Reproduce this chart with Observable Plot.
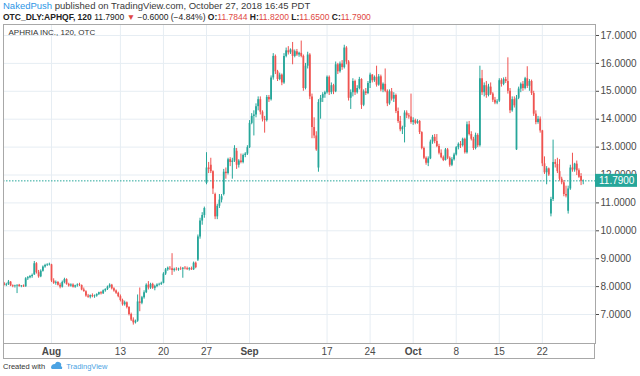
<!DOCTYPE html>
<html><head><meta charset="utf-8">
<script src="https://cdn.jsdelivr.net/npm/d3@7"></script>
<script src="https://cdn.jsdelivr.net/npm/@observablehq/plot@0.6"></script>
<style>
body{margin:0;background:#fff;font-family:"Liberation Sans",Arial,sans-serif;width:640px;height:376px;overflow:hidden;position:relative}
#h1{position:absolute;left:3px;top:0px;font-size:9.5px;color:#3a3a3a;white-space:nowrap;line-height:12px}
#h1 .u{color:#2e96e6}
#h2{position:absolute;left:3px;top:11px;font-size:8.5px;color:#222;white-space:nowrap;line-height:12px}
#h2 .r{color:#e04843}
#chart{position:absolute;left:0;top:22px}
#foot{position:absolute;left:3px;top:361px;font-size:7.5px;color:#333;white-space:nowrap;line-height:12px}
#foot .tv{color:#4ba3e3}
</style></head>
<body>
<div id="h1"><span class="u">NakedPush</span> published on TradingView.com, October 27, 2018 16:45 PDT</div>
<div id="h2"><b>OTC_DLY:APHQF, 120</b> 11.7900 <span class="r">▼</span> −0.6000 (−4.84%) <b>O:</b><span class="r">11.7844</span> <b>H:</b><span class="r">11.8200</span> <b>L:</b><span class="r">11.6500</span> <b>C:</b><span class="r">11.7900</span></div>
<div id="chart"></div>
<div id="foot">Created with <svg width="13" height="9" style="vertical-align:-1px;margin:0 3px"><path d="M1 7 Q1 3 5 3 Q6 0 9 1 Q12 2 11 5 Q13 6 12 8 L2 8 Z" fill="#4ba3e3"/></svg><span class="tv">TradingView</span></div>
<script>
// 120-minute bars, Jul 24 (last 2 bars) to Oct 26 2018, 4 bars per trading day
const opens = [
8.10,8.05,
8.08,8.16,8.03,8.00, 8.02,8.05,8.00,8.02, 7.99,8.28,8.32,8.36, 8.42,8.82,8.50,8.35, 8.55,8.70,8.76,8.78,
8.78,8.20,8.12,8.15, 8.05,7.98,8.15,8.25, 8.08,8.02,8.06,7.98, 8.03,8.06,8.04,7.88, 7.82,7.66,7.62,7.68,
7.64,7.66,7.72,7.78, 7.74,7.85,7.90,7.98, 8.05,7.92,7.84,7.76, 7.64,7.50,7.35,7.42, 7.25,7.00,6.80,6.70,
6.76,7.45,7.40,7.60, 7.78,8.05,7.95,8.08, 7.94,8.00,8.06,8.08, 8.12,8.45,8.60,8.66, 8.64,8.58,8.62,8.60,
8.63,8.62,8.66,8.64, 8.61,8.64,8.60,8.84, 8.95,9.78,10.35,10.55, 11.70,12.25,12.35,12.12, 11.30,10.50,10.88,11.10,
11.30,12.10,12.05,12.55, 12.45,12.50,12.85,12.35, 12.50,12.45,12.70,12.75, 12.98,13.85,14.10,14.15, 14.45,14.70,14.25,14.00,
13.95,14.78,14.70,15.48, 16.25,15.70,15.42,15.58, 15.30,16.25,16.45,16.38, 16.48,16.25,16.42,16.30, 16.36,16.25,15.10,15.90,
16.30,14.80,13.70,13.40, 12.25,14.60,14.75,14.88, 14.95,15.50,14.95,15.20, 14.98,15.95,15.70,15.98, 15.85,16.55,16.05,14.75,
14.95,15.35,14.95,15.10, 15.42,14.50,14.98,14.92, 15.28,15.58,15.38,15.50, 15.22,15.52,15.05,15.25, 15.00,14.55,14.98,14.72,
14.85,14.28,13.92,13.62, 13.70,14.22,14.12,14.08, 13.88,13.95,13.85,13.92, 13.52,12.95,12.60,12.42, 12.58,13.18,13.35,13.20,
13.02,12.78,12.62,12.52, 12.90,12.60,12.35,12.55, 12.72,12.98,13.10,13.05, 13.28,12.80,13.80,13.45, 13.28,12.95,13.42,13.05,
15.45,14.95,15.20,14.85, 15.15,14.90,14.68,14.58, 14.65,15.38,15.25,15.42, 15.35,15.00,14.30,14.70, 12.90,14.75,15.08,15.25,
15.10,15.45,15.18,15.35, 14.92,14.18,13.88,14.00, 13.58,12.40,12.08,12.22, 10.60,11.12,12.45,12.38, 12.12,11.85,11.72,11.30,
10.70,11.50,12.25,12.18, 12.39,12.15,11.95,11.7844
];
const highs = [
8.15,8.12,
8.22,8.18,8.06,8.05, 8.06,8.08,8.04,8.06, 8.32,8.36,8.40,8.45, 8.90,8.86,8.58,8.60, 8.74,8.80,8.82,8.84,
8.80,8.28,8.20,8.18, 8.12,8.20,8.30,8.28, 8.12,8.10,8.10,8.05, 8.10,8.12,8.06,7.95, 7.85,7.72,7.70,7.74,
7.70,7.74,7.80,7.82, 7.88,7.92,8.02,8.10, 8.08,7.96,7.88,7.80, 7.70,7.55,7.48,7.45, 7.28,7.05,6.88,6.80,
7.70,7.95,7.65,7.85, 8.10,8.18,8.12,8.12, 8.05,8.10,8.12,8.16, 8.50,8.65,8.70,8.72, 9.18,8.66,8.68,8.66,
8.70,8.68,8.72,8.70, 8.68,8.70,8.88,8.88, 9.85,10.45,10.65,10.85, 12.80,12.45,12.60,12.15, 11.35,10.95,11.30,11.30,
12.20,12.25,12.60,12.62, 12.60,13.05,12.95,12.55, 12.75,12.75,12.80,13.05, 13.95,14.20,14.30,14.55, 14.80,14.80,14.30,14.10,
14.85,14.85,15.55,16.35, 16.30,15.75,15.65,15.62, 16.35,16.55,16.60,16.52, 16.75,16.48,16.50,16.40, 16.80,16.30,16.00,16.40,
16.35,14.90,14.05,13.55, 14.70,14.85,14.95,15.00, 15.55,15.55,15.30,15.25, 16.05,16.00,16.05,16.10, 16.65,16.60,16.10,15.05,
15.45,15.40,15.20,15.50, 15.45,15.05,15.10,15.35, 15.65,15.60,15.55,15.90, 15.60,15.58,15.30,15.80, 15.05,15.05,15.10,14.95,
14.90,14.40,14.10,13.75, 14.30,14.30,14.20,14.90, 14.05,14.00,13.98,13.95, 13.55,13.00,12.65,12.65, 13.25,13.42,13.45,13.45,
13.10,12.90,12.68,12.95, 12.95,12.65,12.62,12.78, 13.02,13.15,13.20,13.32, 13.32,13.90,13.92,13.55, 13.35,13.50,13.48,15.90,
15.75,15.30,15.35,15.25, 15.30,14.95,14.78,14.70, 15.45,15.45,15.48,15.50, 16.20,15.10,14.80,14.80, 14.85,15.15,15.30,15.35,
15.50,15.88,15.42,15.40, 15.00,14.30,14.10,14.08, 13.60,12.65,12.30,12.25, 11.20,13.25,12.55,12.60, 12.55,11.92,11.80,11.60,
11.60,12.35,12.78,12.42, 12.50,12.22,12.05,11.82
];
const lows = [
8.02,8.00,
8.04,8.00,7.96,7.95, 7.75,7.98,7.96,7.97, 7.98,8.22,8.28,8.30, 8.40,8.45,8.30,8.32, 8.52,8.66,8.72,8.74,
8.15,8.08,8.05,8.02, 7.92,7.95,8.10,8.05, 7.98,7.98,7.95,7.94, 7.98,8.00,7.85,7.80, 7.62,7.58,7.56,7.60,
7.58,7.62,7.68,7.70, 7.72,7.80,7.86,7.94, 7.88,7.80,7.72,7.60, 7.45,7.30,7.30,7.20, 6.95,6.75,6.62,6.66,
6.72,7.10,7.35,7.55, 7.75,7.88,7.90,7.90, 7.85,7.96,8.02,8.04, 8.10,8.40,8.55,8.58, 8.40,8.52,8.56,8.55,
8.58,8.30,8.60,8.58, 8.56,8.58,8.58,8.64, 8.90,9.70,10.20,10.45, 11.65,12.05,12.05,11.30, 10.40,10.40,10.80,11.00,
11.25,11.85,12.00,12.30, 11.85,12.45,12.20,12.25, 12.40,12.40,12.62,12.70, 12.95,13.80,13.40,14.05, 14.30,14.15,13.90,13.50,
13.90,14.60,14.65,15.40, 15.60,15.35,15.38,15.20, 15.25,16.20,16.30,16.32, 15.95,16.20,16.25,16.22, 16.20,15.00,15.05,15.80,
14.70,13.30,13.30,12.85, 12.10,14.00,14.60,14.75, 14.90,14.85,14.88,14.88, 14.95,15.60,15.65,15.75, 15.80,15.95,14.65,14.35,
14.80,14.85,14.90,15.05, 14.35,14.45,14.85,14.88, 15.10,15.30,15.32,15.15, 15.18,14.98,14.95,14.95, 14.45,14.50,14.65,14.60,
14.20,13.85,13.55,13.45, 13.15,14.02,14.00,13.82, 13.78,13.80,13.82,13.45, 12.90,12.55,12.35,12.30, 12.55,13.10,13.12,12.98,
12.72,12.58,12.48,12.50, 12.55,12.28,12.30,12.50, 12.68,12.90,12.95,13.00, 12.75,12.75,13.40,13.22, 12.88,12.90,12.98,13.00,
14.85,14.80,14.75,14.80, 14.85,14.60,14.52,14.52, 14.60,15.15,15.20,15.28, 14.90,14.20,14.25,14.40, 12.88,14.70,14.95,15.00,
15.05,15.10,15.00,14.85, 14.10,13.80,13.82,13.50, 12.30,12.02,11.65,11.95, 10.50,11.05,12.25,12.05, 11.78,11.65,11.22,11.18,
10.60,11.45,12.10,12.10, 11.98,11.88,11.62,11.65
];
const closes = [
8.05,8.08,
8.16,8.03,8.00,8.02, 8.05,8.00,8.02,7.99, 8.28,8.32,8.36,8.40, 8.82,8.50,8.35,8.55, 8.70,8.76,8.78,8.80,
8.20,8.12,8.15,8.05, 7.98,8.15,8.25,8.08, 8.02,8.06,7.98,8.03, 8.06,8.04,7.88,7.82, 7.66,7.62,7.68,7.64,
7.66,7.72,7.78,7.74, 7.85,7.90,7.98,8.05, 7.92,7.84,7.76,7.64, 7.50,7.35,7.42,7.25, 7.00,6.80,6.70,6.76,
7.45,7.40,7.60,7.78, 8.05,7.95,8.08,7.94, 8.00,8.06,8.08,8.12, 8.45,8.60,8.66,8.64, 8.58,8.62,8.60,8.63,
8.62,8.66,8.64,8.61, 8.64,8.60,8.84,8.68, 9.78,10.35,10.55,10.80, 12.25,12.20,12.12,11.50, 10.50,10.88,11.10,11.22,
12.10,12.05,12.55,12.45, 12.50,12.95,12.35,12.50, 12.45,12.70,12.75,12.98, 13.85,14.10,14.15,14.45, 14.70,14.25,14.00,13.95,
14.78,14.70,15.48,16.25, 15.70,15.42,15.58,15.30, 16.25,16.45,16.38,16.48, 16.25,16.42,16.30,16.36, 16.25,15.10,15.90,16.30,
14.80,13.70,13.40,12.90, 14.60,14.75,14.88,14.95, 15.50,14.95,15.20,14.98, 15.95,15.70,15.98,15.85, 16.55,16.05,14.75,14.95,
15.35,14.95,15.10,15.42, 14.50,14.98,14.92,15.28, 15.58,15.38,15.50,15.22, 15.52,15.05,15.25,15.00, 14.55,14.98,14.72,14.85,
14.28,13.92,13.62,13.70, 14.22,14.12,14.08,13.88, 13.95,13.85,13.92,13.52, 12.95,12.60,12.42,12.58, 13.18,13.35,13.20,13.02,
12.78,12.62,12.52,12.90, 12.60,12.35,12.55,12.72, 12.98,13.10,13.05,13.28, 12.80,13.80,13.45,13.28, 12.95,13.42,13.05,15.45,
14.95,15.20,14.85,15.15, 14.90,14.68,14.58,14.62, 15.38,15.25,15.42,15.35, 15.00,14.30,14.70,14.48, 14.75,15.08,15.25,15.10,
15.45,15.18,15.35,14.92, 14.18,13.88,14.00,13.58, 12.40,12.08,12.22,12.00, 11.12,12.45,12.38,12.12, 11.85,11.72,11.30,11.25,
11.50,12.25,12.18,12.39, 12.15,11.92,11.78,11.79
];
// x-axis ticks: trading-day index (0 = Jul 25) and labels
const tickDays   = [5, 13, 18, 23, 28, 37, 42, 47, 52, 57, 62];
const tickLabels = ["Aug", "13", "20", "27", "Sep", "17", "24", "Oct", "8", "15", "22"];
const monthLabels = ["Aug", "Sep", "Oct"];
const yTicks = [7, 8, 9, 10, 11, 12, 13, 14, 15, 16, 17];
const title = "APHRIA INC., 120, OTC";

const UP = "#26a69a", DOWN = "#ef5350";
const bars = closes.map((c, i) => ({i, o: opens[i], h: highs[i], l: lows[i], c}));
const upBars = bars.filter(d => d.c >= d.o), downBars = bars.filter(d => d.c < d.o);
const tickIdx = tickDays.map(d => 2 + 4 * d);
const labelOf = new Map(tickIdx.map((t, k) => [t, tickLabels[k]]));
const lastClose = closes[closes.length - 1];
const body = (arr, color) => Plot.ruleX(arr, {x: "i", y1: d => Math.min(d.o, d.c), y2: d => Math.max(d.o, d.c), stroke: color, strokeWidth: 1.8});
const wick = (arr, color) => Plot.ruleX(arr, {x: "i", y1: "l", y2: "h", stroke: color, strokeWidth: 1});

const W = 640, H = 340, ML = 3, MR = 45, MT = 2, MB = 19;
const chart = Plot.plot({
  width: W, height: H,
  marginLeft: ML, marginRight: MR, marginTop: MT, marginBottom: MB,
  x: {domain: [-0.3, 274.7], axis: null, label: null},
  y: {domain: [5.961, 17.394], axis: null, label: null},
  style: {fontFamily: "'Liberation Sans', Arial, sans-serif", fontSize: "10px", color: "#4a4a4a", background: "#fff", overflow: "visible"},
  marks: [
    Plot.ruleX(tickIdx, {stroke: "#e6edf3"}),
    Plot.ruleY(yTicks, {stroke: "#e6edf3"}),
    Plot.ruleY([lastClose], {stroke: UP, strokeDasharray: "1.5,1.5", strokeWidth: 1}),
    wick(upBars, UP), wick(downBars, DOWN),
    body(upBars, UP), body(downBars, DOWN),
    Plot.axisY(yTicks, {anchor: "right", label: null, tickSize: 3, tickPadding: 2, tickFormat: d => d.toFixed(4)}),
    Plot.axisX(tickIdx, {anchor: "bottom", label: null, tickSize: 0, tickPadding: 4, tickFormat: d => labelOf.get(d)}),
    Plot.text([title], {frameAnchor: "top-left", dx: 5, dy: 5, fontSize: 8, fill: "#333", textAnchor: "start", lineAnchor: "top"}),
    Plot.frame({stroke: "#a8a8a8"})
  ]
});
document.getElementById("chart").appendChild(chart);

const svg = d3.select(chart);
svg.selectAll("text").each(function() {
  const t = d3.select(this);
  if (monthLabels.includes(t.text())) t.attr("font-weight", "bold");
});
// bottom strip of the time axis
const x0 = ML, x1 = W - MR, yb = H - MB, ye = H - 3;
const g = svg.append("g").attr("stroke", "#a8a8a8").attr("fill", "none");
g.append("line").attr("x1", x0 + 0.5).attr("x2", x0 + 0.5).attr("y1", yb).attr("y2", ye);
g.append("line").attr("x1", x1 - 0.5).attr("x2", x1 - 0.5).attr("y1", yb).attr("y2", ye);
g.append("line").attr("x1", x0).attr("x2", x1).attr("y1", ye - 0.5).attr("y2", ye - 0.5);
// last price label (covers the axis label beneath it, as in TradingView)
const yl = chart.scale("y").apply(lastClose);
const lab = svg.append("g").attr("text-anchor", "start");
lab.append("rect").attr("x", x1).attr("y", yl - 6.5).attr("width", 42).attr("height", 13).attr("fill", UP);
lab.append("text").attr("x", x1 + 4).attr("y", yl + 3.5).attr("text-anchor", "start").attr("fill", "#fff").attr("font-size", 10).text(lastClose.toFixed(4));
</script>
</body></html>
